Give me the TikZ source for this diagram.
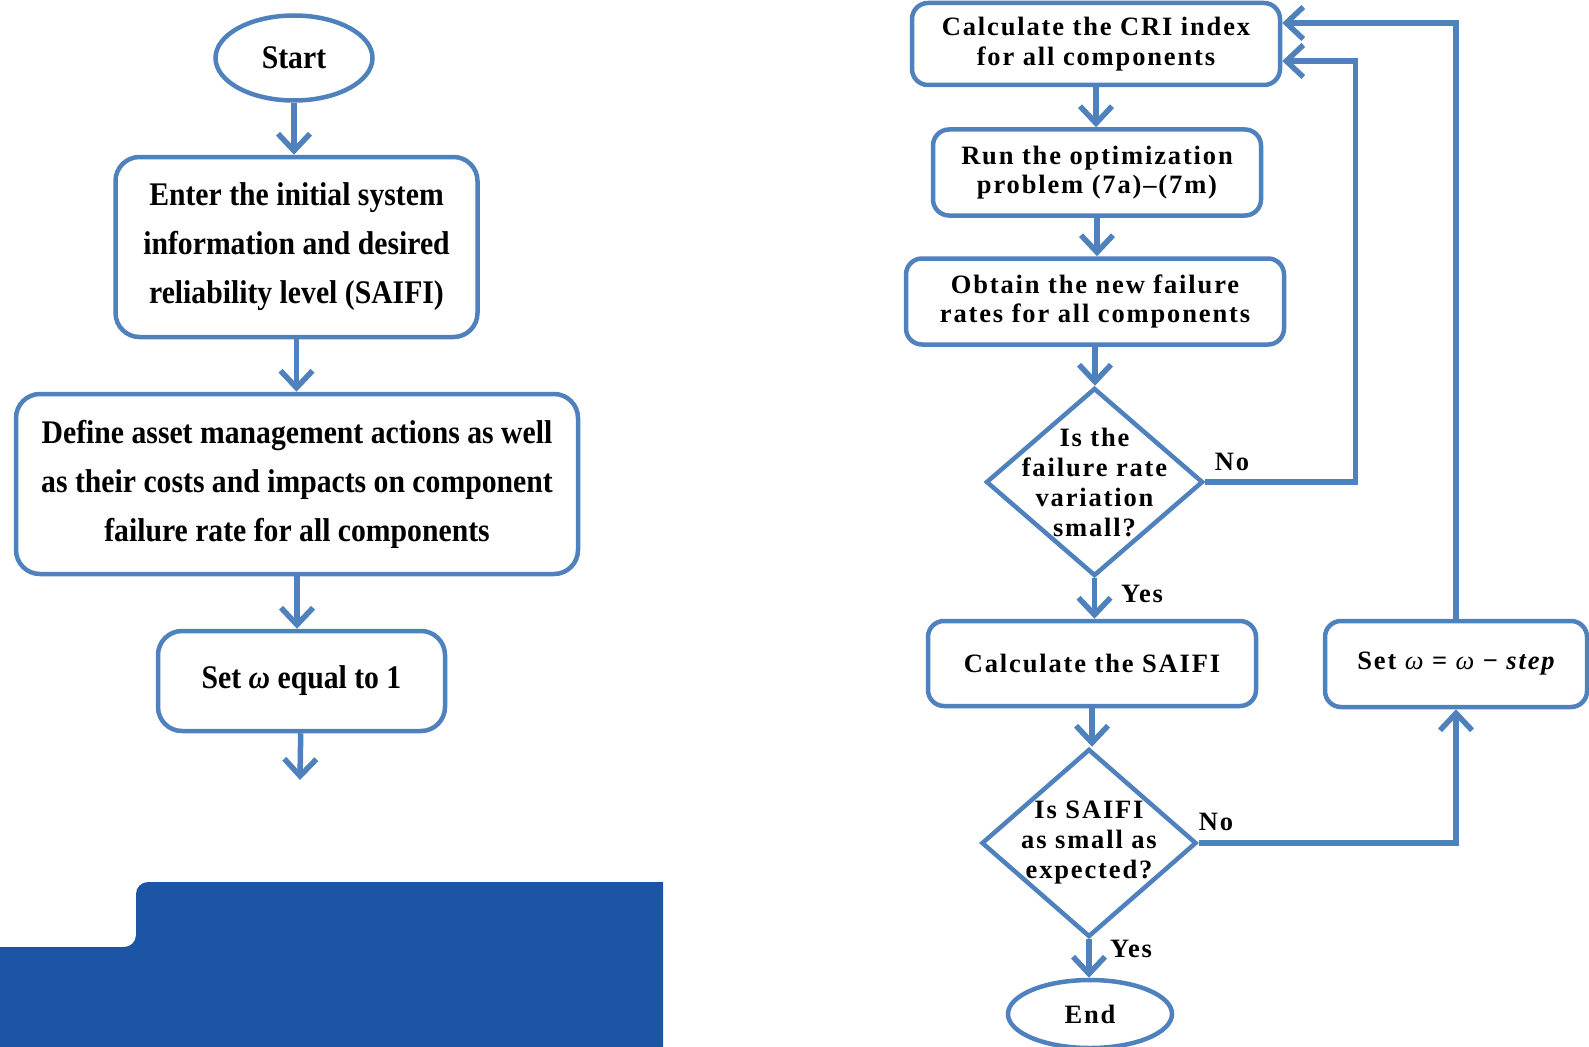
\documentclass[tikz,border=0pt]{standalone}
\usepackage{fontspec}
\setmainfont{Liberation Serif}
\newfontfamily\condfont[FakeStretch=0.9]{Liberation Serif}
\newfontfamily\widefont[LetterSpace=7]{Liberation Serif}
\usetikzlibrary{arrows.meta,shapes.geometric,positioning}
\definecolor{flowblue}{HTML}{4F81BD}
\definecolor{slabblue}{HTML}{1C54A6}
\tikzset{
  leftbox/.style={draw=flowblue, line width=4.5pt, rounded corners=24pt, align=center,
    font=\condfont\bfseries\fontsize{33}{49}\selectfont},
  rightbox/.style={draw=flowblue, line width=4.5pt, rounded corners=16pt, align=center,
    font=\widefont\bfseries\fontsize{26.5}{29.5}\selectfont},
  terminal/.style={ellipse, draw=flowblue, line width=4.5pt},
  decision/.style={diamond, draw=flowblue, line width=4.5pt, inner sep=0pt},
  dtext/.style={align=center, font=\widefont\bfseries\fontsize{26.5}{30}\selectfont},
  answer/.style={font=\widefont\bfseries\fontsize{26.5}{30}\selectfont, inner sep=0pt},
  flow/.style={draw=flowblue, line width=5.5pt, -{Straight Barb[length=17pt, width=32pt]}},
  link/.style={draw=flowblue, line width=5.5pt}
}
\begin{document}
\begin{tikzpicture}[x=1pt, y=-1pt]
\useasboundingbox (0,0) rectangle (1589,1046);
% blue slab bottom left
\fill[slabblue, rounded corners=12pt] (-30,1080) -- (-30,947) -- (136,947) -- (136,882)
  [sharp corners] -- (663,882) -- (663,1080) -- cycle;

% left column
\node[terminal, minimum width=157pt, minimum height=85pt,
  font=\condfont\bfseries\fontsize{33}{36}\selectfont] (start) at (294,58) {Start};
\node[leftbox, minimum width=362pt, minimum height=180pt] (enter) at (296.5,247)
  {Enter the initial system\\information and desired\\reliability level (SAIFI)};
\node[leftbox, minimum width=562pt, minimum height=180pt] (define) at (297,484)
  {Define asset management actions as well\\as their costs and impacts on component\\failure rate for all components};
\node[leftbox, minimum width=287pt, minimum height=100pt] (setw) at (301.5,681)
  {Set {\itshape ω} equal to 1};
\coordinate (loose) at (300,780);

\draw[flow] (start) -- (start |- enter.north);
\draw[flow] (enter) -- (enter |- define.north);
\draw[flow] (define) -- (define |- setw.north);
\draw[flow] (setw) -- (loose);

% right column
\node[rightbox, minimum width=368pt, minimum height=82pt] (cri) at (1096,44)
  {Calculate the CRI index\\for all components};
\node[rightbox, minimum width=328pt, minimum height=86pt] (runopt) at (1097,172.5)
  {Run the optimization\\problem (7a)–(7m)};
\node[rightbox, minimum width=378pt, minimum height=86pt] (newrates) at (1095,301.5)
  {Obtain the new failure\\rates for all components};
\node[decision, minimum width=217pt, minimum height=188pt,
  label={[dtext]center:{Is the\\failure rate\\variation\\small?}}] (varq) at (1094.5,482) {};
\node[rightbox, minimum width=328pt, minimum height=85pt] (saifi) at (1092,663.5)
  {Calculate the SAIFI};
\node[decision, minimum width=215pt, minimum height=188pt,
  label={[dtext]center:{Is SAIFI\\as small as\\expected?}}] (saifiq) at (1089,843) {};
\node[terminal, minimum width=164pt, minimum height=68pt,
  font=\widefont\bfseries\fontsize{26.5}{30}\selectfont] (finish) at (1090,1014) {End};
\node[rightbox, minimum width=262pt, minimum height=86pt] (stepw) at (1456,664)
  {Set {\mdseries\itshape ω} = {\mdseries\itshape ω} − {\itshape step}};

\draw[flow] (cri) -- (cri |- runopt.north);
\draw[flow] (runopt) -- (runopt |- newrates.north);
\draw[flow] (newrates) -- (newrates |- varq.north);
\draw[flow] (varq) -- (varq |- saifi.north);
\draw[flow] (saifi) -- (saifi |- saifiq.north);
\draw[flow] (saifiq) -- (saifiq |- finish.north);
\draw[flow] (varq.east) -| ([xshift=73pt, yshift=-17pt]cri.east) -- ([yshift=-17pt]cri.east);
\draw[flow] (stepw.north) |- ([yshift=21pt]cri.east);
\draw[flow] (saifiq.east) -| (stepw.south);

\node[answer] (no1) at (1232,462) {No};
\node[answer] (yes1) at (1142,594) {Yes};
\node[answer] (no2) at (1216,822) {No};
\node[answer] (yes2) at (1131,949) {Yes};
\end{tikzpicture}
\end{document}
